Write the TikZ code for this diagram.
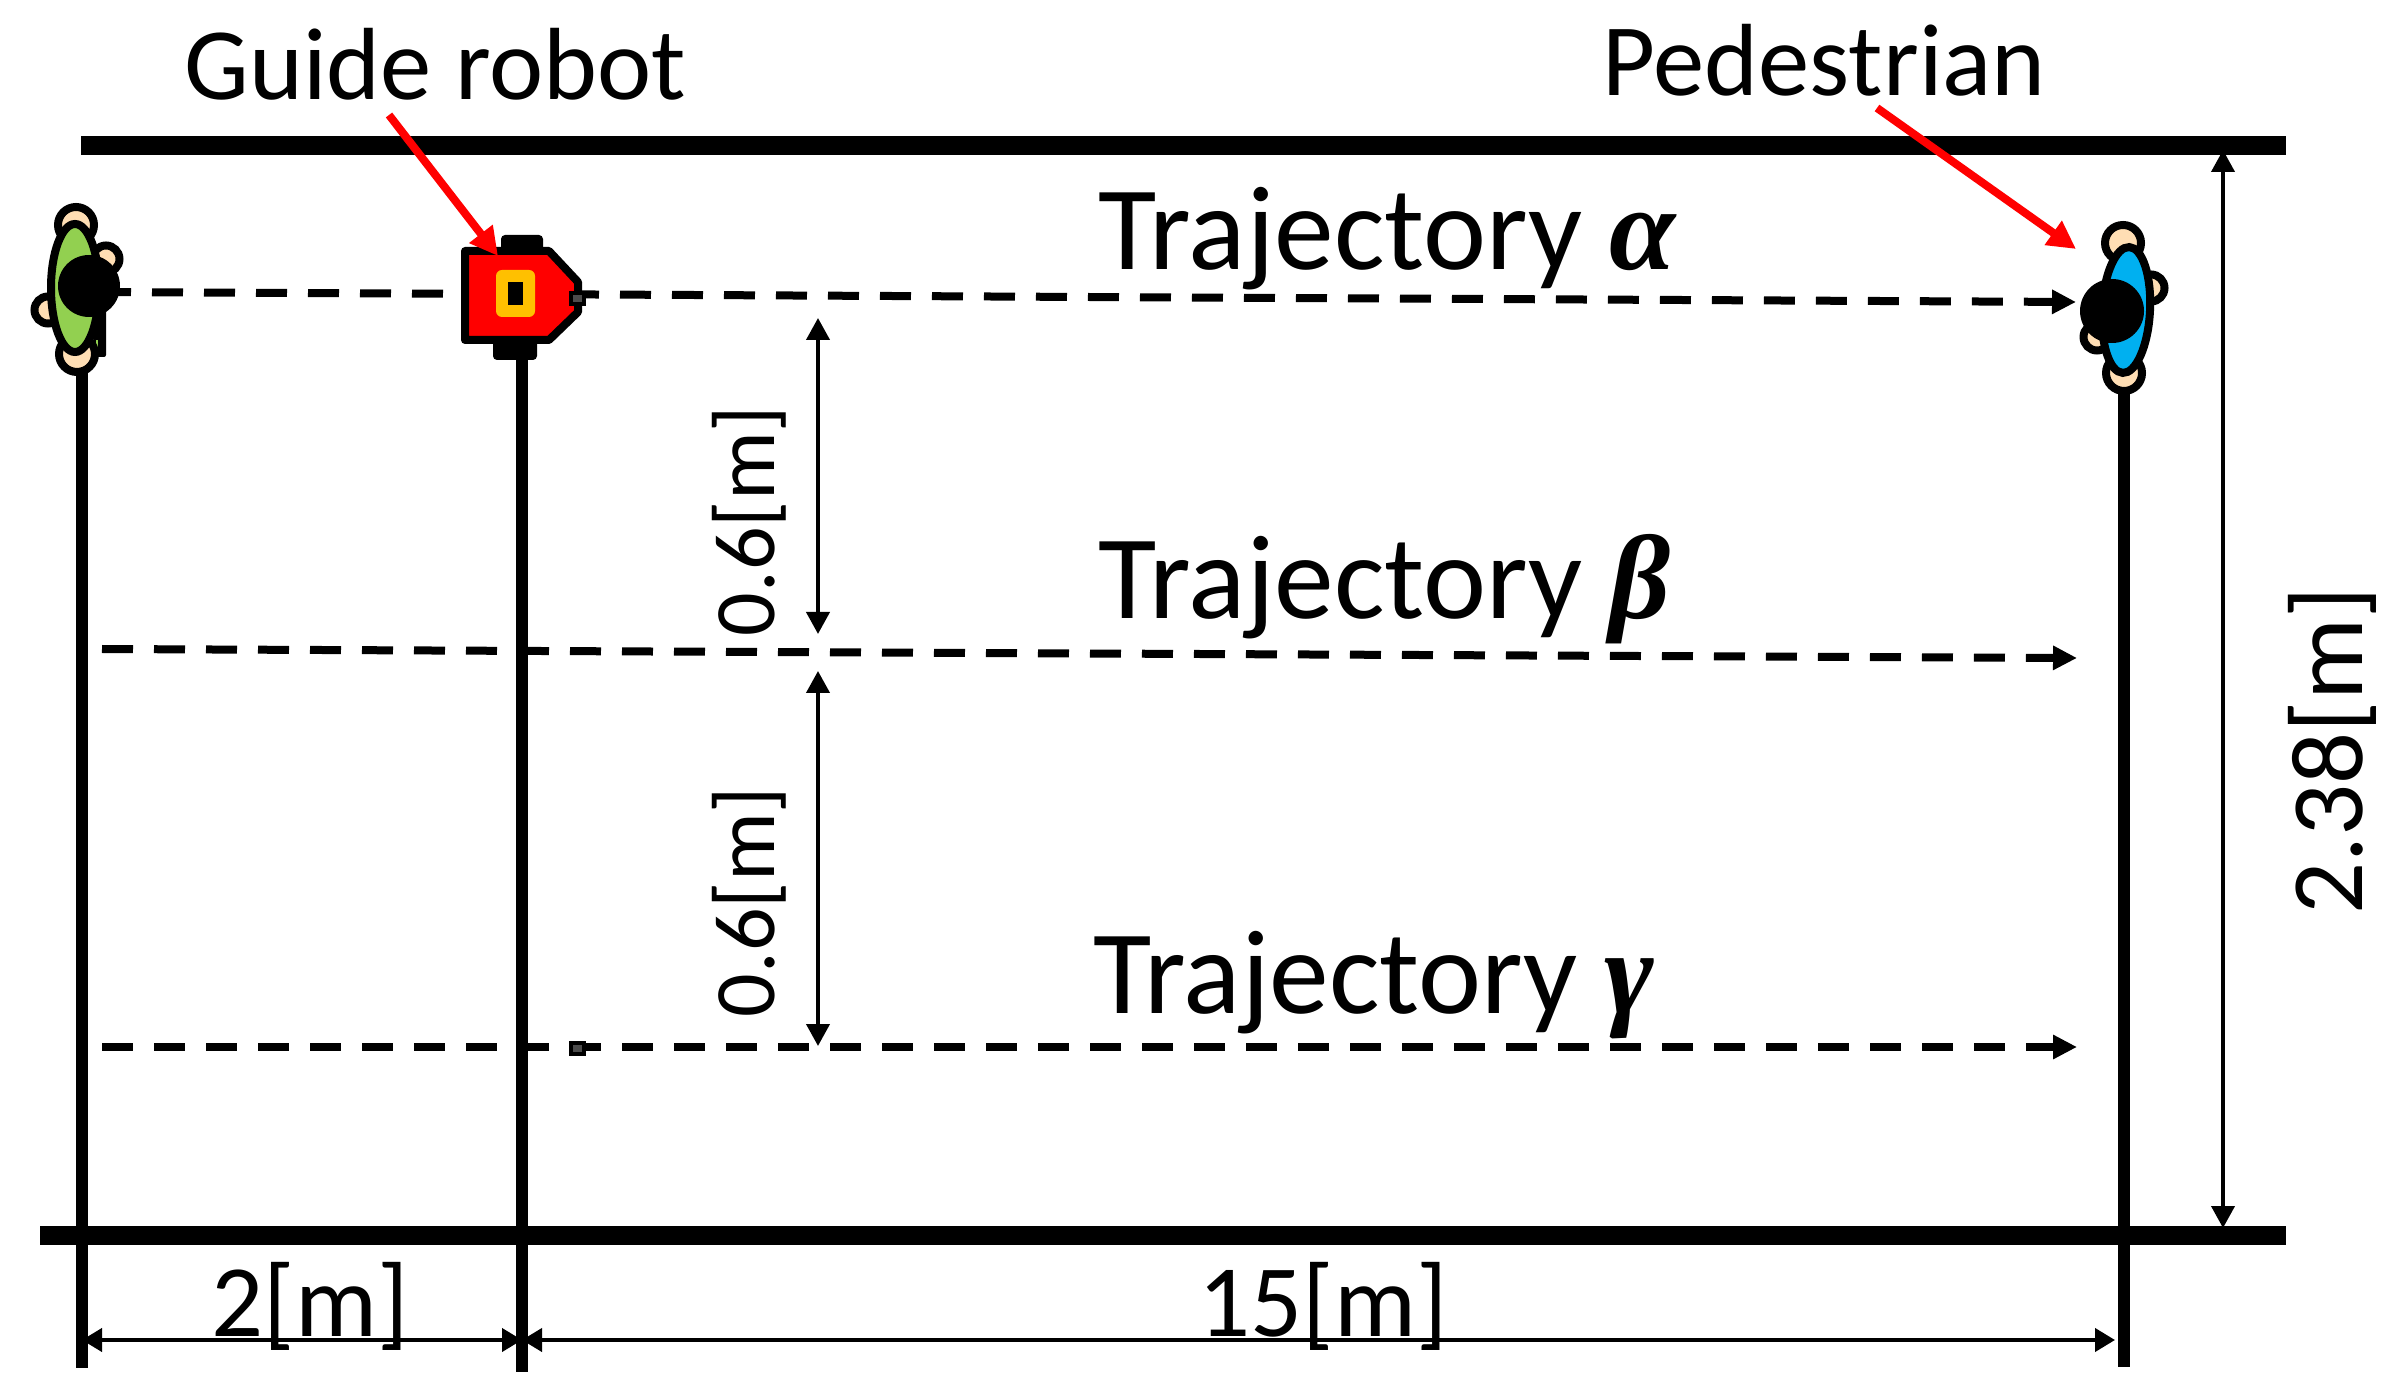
\documentclass[tikz,border=0pt]{standalone}
\usepackage{fontspec}
\usepackage{tikz}
\usetikzlibrary{arrows.meta}
\setmainfont{Carlito}
\newfontfamily\greekfont{Liberation Serif}
\definecolor{skin}{HTML}{FFDEB4}
\definecolor{shirtgreen}{HTML}{92D050}
\definecolor{shirtblue}{HTML}{00B0F0}
\definecolor{robotorange}{HTML}{FFC000}
\tikzset{
  wall/.style={line width=1.9mm},
  post/.style={line width=1.2mm},
  path line/.style={line width=0.8mm,dash pattern=on 3.1mm off 2.1mm,-{Triangle[length=2.4mm,width=2.3mm]}},
  dim line/.style={line width=0.4mm,{Triangle[length=2.2mm,width=2.3mm]}-{Triangle[length=2.2mm,width=2.3mm]}},
  dim low/.style={line width=0.4mm,{Triangle[length=2mm,width=2.3mm]}-{Triangle[length=2mm,width=2.3mm]}},
  pointer/.style={red,line width=0.8mm,-{Triangle[length=2.8mm,width=2.8mm]}},
  limb/.style={draw=black,fill=skin,line width=0.8mm},
  torso/.style={draw=black,line width=0.8mm},
  sensor/.style={fill=black!70,draw=black,line width=0.4mm,minimum width=1.3mm,minimum height=1.1mm,inner sep=0},
  big label/.style={inner sep=0,anchor=base west,font=\fontsize{34}{37}\selectfont},
  mid label/.style={inner sep=0,anchor=base west,font=\fontsize{29.2}{32}\selectfont},
  small label/.style={inner sep=0,anchor=base west,rotate=90,font=\fontsize{24.5}{28}\selectfont},
}
\begin{document}
\begin{tikzpicture}[x=0.1mm,y=-0.1mm]
\useasboundingbox (0,0) rectangle (2408,1391);

% walls
\draw[wall] (81,146) -- (2286,146);
\draw[wall] (40,1235) -- (2286,1235);

% posts
\draw[post] (82,370) -- (82,1368);
\draw[post] (522,355) -- (522,1372);
\draw[post] (2124,390) -- (2124,1367);

% trajectories
\coordinate (alpha start) at (100,292);
\coordinate (alpha end) at (2076,302);
\coordinate (beta start) at (102,649);
\coordinate (beta end) at (2077,658);
\coordinate (gamma start) at (102,1047);
\coordinate (gamma end) at (2077,1047);
\draw[path line] (alpha start) -- (alpha end);
\draw[path line] (beta start) -- (beta end);
\draw[path line] (gamma start) -- (gamma end);

% green pedestrian
\fill[rounded corners=0.2mm] (94,300) rectangle (106,357);
\fill[shirtgreen] (96,340) rectangle (98,355);
\draw[limb] (76,225) circle (18);
\draw[limb] (77,354) circle (18);
\draw[limb] (106,259) circle (13.5);
\draw[limb] (48,310) circle (13.5);
\draw[torso,fill=shirtgreen] (75,288) ellipse (24 and 64);
\fill (89,286) circle (31);

% blue pedestrian
\draw[limb] (2123,243) circle (18);
\draw[limb] (2124,373) circle (18);
\draw[limb] (2151,288) circle (13.5);
\draw[limb] (2097,337) circle (13.5);
\draw[torso,fill=shirtblue,rotate around={-3:(2126,310)}] (2126,310) ellipse (24 and 63);
\fill (2112,311) circle (32);

% robot
\fill[rounded corners=0.4mm] (501,235) rectangle (543,255);
\fill[rounded corners=0.4mm] (493,340) rectangle (537,360);
\draw[line width=0.8mm,fill=red,line join=round] (465,251) -- (549,251) -- (578,282) -- (578,312) -- (549,340) -- (465,340) -- cycle;
\fill[robotorange,rounded corners=0.6mm] (496,270) rectangle (535,317);
\fill (508,282) rectangle (523,305);
\node[sensor] (sensor alpha) at (577,299) {};
\node[sensor] (sensor gamma) at (577,1048) {};

% distances
\coordinate (wall top) at (2223,150);
\coordinate (wall bottom) at (2223,1228);
\draw[dim line] (wall top) -- (wall bottom);
\coordinate (gap a) at (818,318);
\coordinate (gap b) at (818,634);
\coordinate (gap c) at (818,671);
\coordinate (gap d) at (818,1046);
\draw[dim line] (gap a) -- (gap b);
\draw[dim line] (gap c) -- (gap d);
\coordinate (span a) at (82,1340);
\coordinate (span b) at (522,1340);
\coordinate (span c) at (522,1340);
\coordinate (span d) at (2115,1340);
\draw[dim low] (span a) -- (span b);
\draw[dim low] (span c) -- (span d);

% labels
\node[mid label] (robot label) at (184,100) {Guide robot};
\node[mid label] (pedestrian label) at (1602,96) {Pedestrian};
\node[big label] (alpha label) at (1098,270) {Trajectory {\greekfont\bfseries\itshape α}};
\node[big label] (beta label) at (1098,619) {Trajectory {\greekfont\bfseries\itshape β}};
\node[big label] (gamma label) at (1093,1013) {Trajectory {\greekfont\bfseries\itshape γ}};
\node[small label] (gap label a) at (774,637) {0.6[m]};
\node[small label] (gap label b) at (774,1018) {0.6[m]};
\node[mid label,rotate=90] (height label) at (2362,915) {2.38[m]};
\node[mid label] (span label a) at (211,1336) {2[m]};
\node[mid label] (span label b) at (1198,1336) {15[m]};

% pointers
\coordinate (robot tail) at (389,115);
\coordinate (robot tip) at (498,256);
\coordinate (pedestrian tail) at (1877,108);
\coordinate (pedestrian tip) at (2076,249);
\draw[pointer] (robot tail) -- (robot tip);
\draw[pointer] (pedestrian tail) -- (pedestrian tip);
\end{tikzpicture}
\end{document}
